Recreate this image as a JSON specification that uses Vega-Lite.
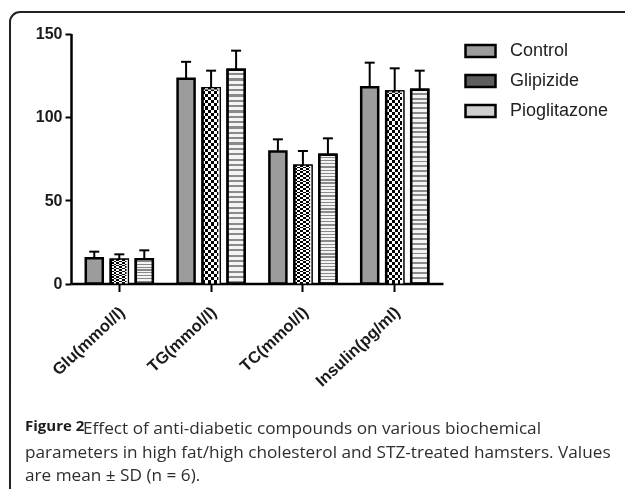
{
  "$schema": "https://vega.github.io/schema/vega-lite/v6.json",
  "width": 625,
  "height": 487,
  "autosize": {"type": "none"},
  "padding": {"left": 10, "top": 12, "right": -10, "bottom": -10},
  "background": "white",
  "data": {
    "values": [
      {"param": "Glu(mmol/l)", "group": "Control", "mean": 15.2, "upper": 19.1},
      {"param": "Glu(mmol/l)", "group": "Glipizide", "mean": 14.2, "upper": 17.5},
      {"param": "Glu(mmol/l)", "group": "Pioglitazone", "mean": 14.6, "upper": 19.9},
      {"param": "TG(mmol/l)", "group": "Control", "mean": 122.8, "upper": 133},
      {"param": "TG(mmol/l)", "group": "Glipizide", "mean": 117.2, "upper": 127.7},
      {"param": "TG(mmol/l)", "group": "Pioglitazone", "mean": 128.2, "upper": 139.7},
      {"param": "TC(mmol/l)", "group": "Control", "mean": 79.2, "upper": 86.5},
      {"param": "TC(mmol/l)", "group": "Glipizide", "mean": 70.6, "upper": 79.5},
      {"param": "TC(mmol/l)", "group": "Pioglitazone", "mean": 77.2, "upper": 87.1},
      {"param": "Insulin(pg/ml)", "group": "Control", "mean": 117.8, "upper": 132.5},
      {"param": "Insulin(pg/ml)", "group": "Glipizide", "mean": 115.2, "upper": 129.1},
      {"param": "Insulin(pg/ml)", "group": "Pioglitazone", "mean": 116.2, "upper": 127.7}
    ]
  },
  "title": {
    "text": "Figure 2",
    "subtitle": [
      "\u200b\u00a0\u00a0\u00a0\u00a0\u00a0\u00a0\u00a0\u00a0\u00a0\u00a0\u00a0\u00a0\u00a0Effect of anti-diabetic compounds on various biochemical",
      "parameters in high fat/high cholesterol and STZ-treated hamsters. Values",
      "are mean \u00b1 SD (n = 6)."
    ],
    "orient": "bottom",
    "anchor": "start",
    "frame": "group",
    "offset": -80,
    "dx": 15,
    "font": "Open Sans",
    "fontSize": 15,
    "fontWeight": "bold",
    "color": "#1e1e1e",
    "subtitleFont": "Open Sans",
    "subtitleFontSize": 17.2,
    "subtitleFontWeight": "normal",
    "subtitleColor": "#2e2e2e",
    "subtitleLineHeight": 23.5,
    "subtitlePadding": -14
  },
  "encoding": {
    "x": {
      "field": "param",
      "type": "nominal",
      "sort": ["Glu(mmol/l)", "TG(mmol/l)", "TC(mmol/l)", "Insulin(pg/ml)"],
      "scale": {"range": [61, 433], "paddingInner": 0.248, "paddingOuter": 0.15},
      "axis": {
        "title": null,
        "offset": -215.5,
        "labelAngle": -43,
        "labelAlign": "right",
        "labelBaseline": "middle",
        "labelOffset": 3,
        "labelFont": "Liberation Sans",
        "labelFontWeight": "bold",
        "labelFontSize": 16.5,
        "labelColor": "#1a1a1a",
        "labelPadding": 18,
        "tickSize": 8,
        "tickWidth": 2,
        "tickColor": "black",
        "domainColor": "black",
        "domainWidth": 2.5,
        "grid": false
      }
    },
    "xOffset": {
      "field": "group",
      "type": "nominal",
      "sort": ["Control", "Glipizide", "Pioglitazone"],
      "scale": {"paddingInner": 0.32, "paddingOuter": 0.04}
    },
    "y": {
      "field": "mean",
      "type": "quantitative",
      "scale": {"domain": [0, 150], "range": [271.5, 21.5], "nice": false, "zero": true},
      "axis": {
        "title": null,
        "offset": -61,
        "values": [0, 50, 100, 150],
        "grid": false,
        "labelFont": "Liberation Sans",
        "labelFontWeight": "bold",
        "labelFontSize": 16,
        "labelColor": "#1a1a1a",
        "labelPadding": 3,
        "tickSize": 6,
        "tickWidth": 2,
        "tickColor": "black",
        "domainColor": "black",
        "domainWidth": 2.5
      }
    }
  },
  "layer": [
    {
      "mark": {"type": "bar", "stroke": "black", "strokeWidth": 2.5},
      "encoding": {
        "fill": {
          "field": "group",
          "type": "nominal",
          "scale": {
            "domain": ["Control", "Glipizide", "Pioglitazone"],
            "range": ["#9c9c9c", "#5e5e5e", "#cfcfcf"]
          },
          "legend": {
            "title": null,
            "orient": "none",
            "legendX": 457,
            "legendY": 25.5,
            "symbolType": "M-1.25,-0.5H1.25V0.5H-1.25Z",
            "symbolSize": 576,
            "symbolStrokeColor": "black",
            "symbolStrokeWidth": 2.5,
            "symbolOpacity": 1,
            "labelFont": "Liberation Sans",
            "labelFontSize": 18,
            "labelColor": "#222222",
            "labelOffset": 16,
            "rowPadding": 5
          }
        }
      }
    },
    {
      "transform": [{"filter": "datum.group === 'Glipizide'"}],
      "mark": {
        "type": "bar",
        "stroke": "black",
        "strokeWidth": 2.5,
        "fill": {
          "gradient": "linear",
          "x1": 0, "y1": 0, "x2": 0, "y2": 1,
          "stops": [
            {"offset": 0, "color": "#fff"}, {"offset": 0.015625, "color": "#fff"}, {"offset": 0.015625, "color": "#000"}, {"offset": 0.03125, "color": "#000"},
            {"offset": 0.03125, "color": "#fff"}, {"offset": 0.046875, "color": "#fff"}, {"offset": 0.046875, "color": "#000"}, {"offset": 0.0625, "color": "#000"},
            {"offset": 0.0625, "color": "#fff"}, {"offset": 0.078125, "color": "#fff"}, {"offset": 0.078125, "color": "#000"}, {"offset": 0.09375, "color": "#000"},
            {"offset": 0.09375, "color": "#fff"}, {"offset": 0.109375, "color": "#fff"}, {"offset": 0.109375, "color": "#000"}, {"offset": 0.125, "color": "#000"},
            {"offset": 0.125, "color": "#fff"}, {"offset": 0.140625, "color": "#fff"}, {"offset": 0.140625, "color": "#000"}, {"offset": 0.15625, "color": "#000"},
            {"offset": 0.15625, "color": "#fff"}, {"offset": 0.171875, "color": "#fff"}, {"offset": 0.171875, "color": "#000"}, {"offset": 0.1875, "color": "#000"},
            {"offset": 0.1875, "color": "#fff"}, {"offset": 0.203125, "color": "#fff"}, {"offset": 0.203125, "color": "#000"}, {"offset": 0.21875, "color": "#000"},
            {"offset": 0.21875, "color": "#fff"}, {"offset": 0.234375, "color": "#fff"}, {"offset": 0.234375, "color": "#000"}, {"offset": 0.25, "color": "#000"},
            {"offset": 0.25, "color": "#fff"}, {"offset": 0.265625, "color": "#fff"}, {"offset": 0.265625, "color": "#000"}, {"offset": 0.28125, "color": "#000"},
            {"offset": 0.28125, "color": "#fff"}, {"offset": 0.296875, "color": "#fff"}, {"offset": 0.296875, "color": "#000"}, {"offset": 0.3125, "color": "#000"},
            {"offset": 0.3125, "color": "#fff"}, {"offset": 0.328125, "color": "#fff"}, {"offset": 0.328125, "color": "#000"}, {"offset": 0.34375, "color": "#000"},
            {"offset": 0.34375, "color": "#fff"}, {"offset": 0.359375, "color": "#fff"}, {"offset": 0.359375, "color": "#000"}, {"offset": 0.375, "color": "#000"},
            {"offset": 0.375, "color": "#fff"}, {"offset": 0.390625, "color": "#fff"}, {"offset": 0.390625, "color": "#000"}, {"offset": 0.40625, "color": "#000"},
            {"offset": 0.40625, "color": "#fff"}, {"offset": 0.421875, "color": "#fff"}, {"offset": 0.421875, "color": "#000"}, {"offset": 0.4375, "color": "#000"},
            {"offset": 0.4375, "color": "#fff"}, {"offset": 0.453125, "color": "#fff"}, {"offset": 0.453125, "color": "#000"}, {"offset": 0.46875, "color": "#000"},
            {"offset": 0.46875, "color": "#fff"}, {"offset": 0.484375, "color": "#fff"}, {"offset": 0.484375, "color": "#000"}, {"offset": 0.5, "color": "#000"},
            {"offset": 0.5, "color": "#fff"}, {"offset": 0.515625, "color": "#fff"}, {"offset": 0.515625, "color": "#000"}, {"offset": 0.53125, "color": "#000"},
            {"offset": 0.53125, "color": "#fff"}, {"offset": 0.546875, "color": "#fff"}, {"offset": 0.546875, "color": "#000"}, {"offset": 0.5625, "color": "#000"},
            {"offset": 0.5625, "color": "#fff"}, {"offset": 0.578125, "color": "#fff"}, {"offset": 0.578125, "color": "#000"}, {"offset": 0.59375, "color": "#000"},
            {"offset": 0.59375, "color": "#fff"}, {"offset": 0.609375, "color": "#fff"}, {"offset": 0.609375, "color": "#000"}, {"offset": 0.625, "color": "#000"},
            {"offset": 0.625, "color": "#fff"}, {"offset": 0.640625, "color": "#fff"}, {"offset": 0.640625, "color": "#000"}, {"offset": 0.65625, "color": "#000"},
            {"offset": 0.65625, "color": "#fff"}, {"offset": 0.671875, "color": "#fff"}, {"offset": 0.671875, "color": "#000"}, {"offset": 0.6875, "color": "#000"},
            {"offset": 0.6875, "color": "#fff"}, {"offset": 0.703125, "color": "#fff"}, {"offset": 0.703125, "color": "#000"}, {"offset": 0.71875, "color": "#000"},
            {"offset": 0.71875, "color": "#fff"}, {"offset": 0.734375, "color": "#fff"}, {"offset": 0.734375, "color": "#000"}, {"offset": 0.75, "color": "#000"},
            {"offset": 0.75, "color": "#fff"}, {"offset": 0.765625, "color": "#fff"}, {"offset": 0.765625, "color": "#000"}, {"offset": 0.78125, "color": "#000"},
            {"offset": 0.78125, "color": "#fff"}, {"offset": 0.796875, "color": "#fff"}, {"offset": 0.796875, "color": "#000"}, {"offset": 0.8125, "color": "#000"},
            {"offset": 0.8125, "color": "#fff"}, {"offset": 0.828125, "color": "#fff"}, {"offset": 0.828125, "color": "#000"}, {"offset": 0.84375, "color": "#000"},
            {"offset": 0.84375, "color": "#fff"}, {"offset": 0.859375, "color": "#fff"}, {"offset": 0.859375, "color": "#000"}, {"offset": 0.875, "color": "#000"},
            {"offset": 0.875, "color": "#fff"}, {"offset": 0.890625, "color": "#fff"}, {"offset": 0.890625, "color": "#000"}, {"offset": 0.90625, "color": "#000"},
            {"offset": 0.90625, "color": "#fff"}, {"offset": 0.921875, "color": "#fff"}, {"offset": 0.921875, "color": "#000"}, {"offset": 0.9375, "color": "#000"},
            {"offset": 0.9375, "color": "#fff"}, {"offset": 0.953125, "color": "#fff"}, {"offset": 0.953125, "color": "#000"}, {"offset": 0.96875, "color": "#000"},
            {"offset": 0.96875, "color": "#fff"}, {"offset": 0.984375, "color": "#fff"}, {"offset": 0.984375, "color": "#000"}, {"offset": 1, "color": "#000"}
          ]
        }
      },
      "encoding": {}
    },
    {
      "transform": [{"filter": "datum.group === 'Glipizide'"}],
      "mark": {
        "type": "bar",
        "strokeOpacity": 0,
        "blend": "difference",
        "fill": {
          "gradient": "linear",
          "x1": 0, "y1": 0, "x2": 1, "y2": 0,
          "stops": [
            {"offset": 0, "color": "#000"}, {"offset": 0.1667, "color": "#000"}, {"offset": 0.1667, "color": "#fff"}, {"offset": 0.3333, "color": "#fff"},
            {"offset": 0.3333, "color": "#000"}, {"offset": 0.5, "color": "#000"}, {"offset": 0.5, "color": "#fff"}, {"offset": 0.6667, "color": "#fff"},
            {"offset": 0.6667, "color": "#000"}, {"offset": 0.8333, "color": "#000"}, {"offset": 0.8333, "color": "#fff"}, {"offset": 1, "color": "#fff"}
          ]
        }
      },
      "encoding": {}
    },
    {
      "transform": [{"filter": "datum.group === 'Pioglitazone'"}],
      "mark": {
        "type": "bar",
        "stroke": "black",
        "strokeWidth": 2.5,
        "fill": {
          "gradient": "linear",
          "x1": 0, "y1": 0, "x2": 0, "y2": 1,
          "stops": [
            {"offset": 0, "color": "#f4f4f4"}, {"offset": 0.015, "color": "#f4f4f4"}, {"offset": 0.015, "color": "#8a8a8a"}, {"offset": 0.025, "color": "#8a8a8a"},
            {"offset": 0.025, "color": "#f4f4f4"}, {"offset": 0.04, "color": "#f4f4f4"}, {"offset": 0.04, "color": "#8a8a8a"}, {"offset": 0.05, "color": "#8a8a8a"},
            {"offset": 0.05, "color": "#f4f4f4"}, {"offset": 0.065, "color": "#f4f4f4"}, {"offset": 0.065, "color": "#8a8a8a"}, {"offset": 0.075, "color": "#8a8a8a"},
            {"offset": 0.075, "color": "#f4f4f4"}, {"offset": 0.09, "color": "#f4f4f4"}, {"offset": 0.09, "color": "#8a8a8a"}, {"offset": 0.1, "color": "#8a8a8a"},
            {"offset": 0.1, "color": "#f4f4f4"}, {"offset": 0.115, "color": "#f4f4f4"}, {"offset": 0.115, "color": "#8a8a8a"}, {"offset": 0.125, "color": "#8a8a8a"},
            {"offset": 0.125, "color": "#f4f4f4"}, {"offset": 0.14, "color": "#f4f4f4"}, {"offset": 0.14, "color": "#8a8a8a"}, {"offset": 0.15, "color": "#8a8a8a"},
            {"offset": 0.15, "color": "#f4f4f4"}, {"offset": 0.165, "color": "#f4f4f4"}, {"offset": 0.165, "color": "#8a8a8a"}, {"offset": 0.175, "color": "#8a8a8a"},
            {"offset": 0.175, "color": "#f4f4f4"}, {"offset": 0.19, "color": "#f4f4f4"}, {"offset": 0.19, "color": "#8a8a8a"}, {"offset": 0.2, "color": "#8a8a8a"},
            {"offset": 0.2, "color": "#f4f4f4"}, {"offset": 0.215, "color": "#f4f4f4"}, {"offset": 0.215, "color": "#8a8a8a"}, {"offset": 0.225, "color": "#8a8a8a"},
            {"offset": 0.225, "color": "#f4f4f4"}, {"offset": 0.24, "color": "#f4f4f4"}, {"offset": 0.24, "color": "#8a8a8a"}, {"offset": 0.25, "color": "#8a8a8a"},
            {"offset": 0.25, "color": "#f4f4f4"}, {"offset": 0.265, "color": "#f4f4f4"}, {"offset": 0.265, "color": "#8a8a8a"}, {"offset": 0.275, "color": "#8a8a8a"},
            {"offset": 0.275, "color": "#f4f4f4"}, {"offset": 0.29, "color": "#f4f4f4"}, {"offset": 0.29, "color": "#8a8a8a"}, {"offset": 0.3, "color": "#8a8a8a"},
            {"offset": 0.3, "color": "#f4f4f4"}, {"offset": 0.315, "color": "#f4f4f4"}, {"offset": 0.315, "color": "#8a8a8a"}, {"offset": 0.325, "color": "#8a8a8a"},
            {"offset": 0.325, "color": "#f4f4f4"}, {"offset": 0.34, "color": "#f4f4f4"}, {"offset": 0.34, "color": "#8a8a8a"}, {"offset": 0.35, "color": "#8a8a8a"},
            {"offset": 0.35, "color": "#f4f4f4"}, {"offset": 0.365, "color": "#f4f4f4"}, {"offset": 0.365, "color": "#8a8a8a"}, {"offset": 0.375, "color": "#8a8a8a"},
            {"offset": 0.375, "color": "#f4f4f4"}, {"offset": 0.39, "color": "#f4f4f4"}, {"offset": 0.39, "color": "#8a8a8a"}, {"offset": 0.4, "color": "#8a8a8a"},
            {"offset": 0.4, "color": "#f4f4f4"}, {"offset": 0.415, "color": "#f4f4f4"}, {"offset": 0.415, "color": "#8a8a8a"}, {"offset": 0.425, "color": "#8a8a8a"},
            {"offset": 0.425, "color": "#f4f4f4"}, {"offset": 0.44, "color": "#f4f4f4"}, {"offset": 0.44, "color": "#8a8a8a"}, {"offset": 0.45, "color": "#8a8a8a"},
            {"offset": 0.45, "color": "#f4f4f4"}, {"offset": 0.465, "color": "#f4f4f4"}, {"offset": 0.465, "color": "#8a8a8a"}, {"offset": 0.475, "color": "#8a8a8a"},
            {"offset": 0.475, "color": "#f4f4f4"}, {"offset": 0.49, "color": "#f4f4f4"}, {"offset": 0.49, "color": "#8a8a8a"}, {"offset": 0.5, "color": "#8a8a8a"},
            {"offset": 0.5, "color": "#f4f4f4"}, {"offset": 0.515, "color": "#f4f4f4"}, {"offset": 0.515, "color": "#8a8a8a"}, {"offset": 0.525, "color": "#8a8a8a"},
            {"offset": 0.525, "color": "#f4f4f4"}, {"offset": 0.54, "color": "#f4f4f4"}, {"offset": 0.54, "color": "#8a8a8a"}, {"offset": 0.55, "color": "#8a8a8a"},
            {"offset": 0.55, "color": "#f4f4f4"}, {"offset": 0.565, "color": "#f4f4f4"}, {"offset": 0.565, "color": "#8a8a8a"}, {"offset": 0.575, "color": "#8a8a8a"},
            {"offset": 0.575, "color": "#f4f4f4"}, {"offset": 0.59, "color": "#f4f4f4"}, {"offset": 0.59, "color": "#8a8a8a"}, {"offset": 0.6, "color": "#8a8a8a"},
            {"offset": 0.6, "color": "#f4f4f4"}, {"offset": 0.615, "color": "#f4f4f4"}, {"offset": 0.615, "color": "#8a8a8a"}, {"offset": 0.625, "color": "#8a8a8a"},
            {"offset": 0.625, "color": "#f4f4f4"}, {"offset": 0.64, "color": "#f4f4f4"}, {"offset": 0.64, "color": "#8a8a8a"}, {"offset": 0.65, "color": "#8a8a8a"},
            {"offset": 0.65, "color": "#f4f4f4"}, {"offset": 0.665, "color": "#f4f4f4"}, {"offset": 0.665, "color": "#8a8a8a"}, {"offset": 0.675, "color": "#8a8a8a"},
            {"offset": 0.675, "color": "#f4f4f4"}, {"offset": 0.69, "color": "#f4f4f4"}, {"offset": 0.69, "color": "#8a8a8a"}, {"offset": 0.7, "color": "#8a8a8a"},
            {"offset": 0.7, "color": "#f4f4f4"}, {"offset": 0.715, "color": "#f4f4f4"}, {"offset": 0.715, "color": "#8a8a8a"}, {"offset": 0.725, "color": "#8a8a8a"},
            {"offset": 0.725, "color": "#f4f4f4"}, {"offset": 0.74, "color": "#f4f4f4"}, {"offset": 0.74, "color": "#8a8a8a"}, {"offset": 0.75, "color": "#8a8a8a"},
            {"offset": 0.75, "color": "#f4f4f4"}, {"offset": 0.765, "color": "#f4f4f4"}, {"offset": 0.765, "color": "#8a8a8a"}, {"offset": 0.775, "color": "#8a8a8a"},
            {"offset": 0.775, "color": "#f4f4f4"}, {"offset": 0.79, "color": "#f4f4f4"}, {"offset": 0.79, "color": "#8a8a8a"}, {"offset": 0.8, "color": "#8a8a8a"},
            {"offset": 0.8, "color": "#f4f4f4"}, {"offset": 0.815, "color": "#f4f4f4"}, {"offset": 0.815, "color": "#8a8a8a"}, {"offset": 0.825, "color": "#8a8a8a"},
            {"offset": 0.825, "color": "#f4f4f4"}, {"offset": 0.84, "color": "#f4f4f4"}, {"offset": 0.84, "color": "#8a8a8a"}, {"offset": 0.85, "color": "#8a8a8a"},
            {"offset": 0.85, "color": "#f4f4f4"}, {"offset": 0.865, "color": "#f4f4f4"}, {"offset": 0.865, "color": "#8a8a8a"}, {"offset": 0.875, "color": "#8a8a8a"},
            {"offset": 0.875, "color": "#f4f4f4"}, {"offset": 0.89, "color": "#f4f4f4"}, {"offset": 0.89, "color": "#8a8a8a"}, {"offset": 0.9, "color": "#8a8a8a"},
            {"offset": 0.9, "color": "#f4f4f4"}, {"offset": 0.915, "color": "#f4f4f4"}, {"offset": 0.915, "color": "#8a8a8a"}, {"offset": 0.925, "color": "#8a8a8a"},
            {"offset": 0.925, "color": "#f4f4f4"}, {"offset": 0.94, "color": "#f4f4f4"}, {"offset": 0.94, "color": "#8a8a8a"}, {"offset": 0.95, "color": "#8a8a8a"},
            {"offset": 0.95, "color": "#f4f4f4"}, {"offset": 0.965, "color": "#f4f4f4"}, {"offset": 0.965, "color": "#8a8a8a"}, {"offset": 0.975, "color": "#8a8a8a"},
            {"offset": 0.975, "color": "#f4f4f4"}, {"offset": 0.99, "color": "#f4f4f4"}, {"offset": 0.99, "color": "#8a8a8a"}, {"offset": 1, "color": "#8a8a8a"}
          ]
        }
      },
      "encoding": {}
    },
    {
      "mark": {"type": "rule", "color": "black", "strokeWidth": 2},
      "encoding": {
        "y2": {"field": "upper"}
      }
    },
    {
      "mark": {"type": "tick", "color": "black", "thickness": 2, "size": 10, "opacity": 1},
      "encoding": {
        "y": {"field": "upper", "type": "quantitative"}
      }
    }
  ],
  "config": {
    "view": {
      "stroke": "#222222",
      "strokeWidth": 2,
      "cornerRadius": 10
    }
  }
}
